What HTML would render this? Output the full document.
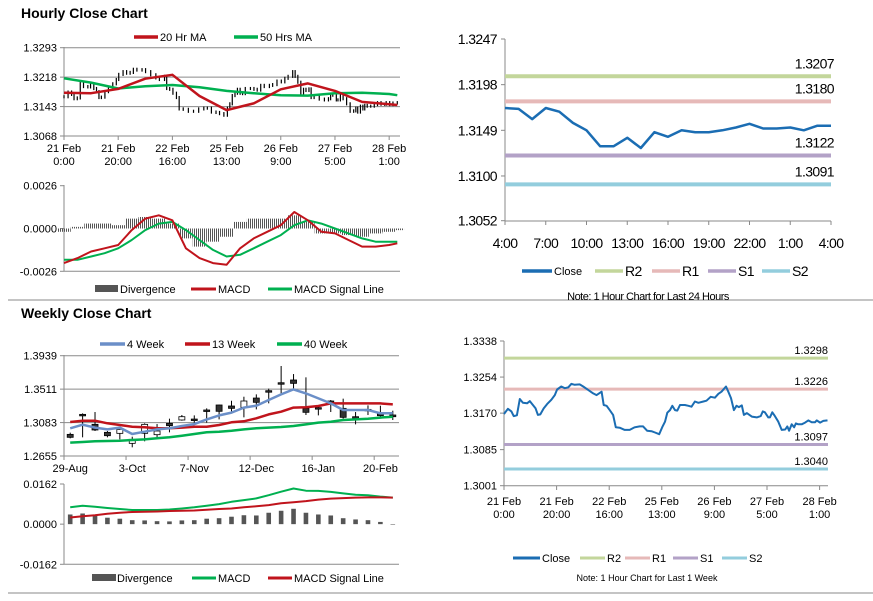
<!DOCTYPE html>
<html><head><meta charset="utf-8"><style>
html,body{margin:0;padding:0;background:#fff;width:873px;height:601px;overflow:hidden}
svg{display:block;font-family:"Liberation Sans",Arial,sans-serif}
</style></head><body>
<svg id="root" width="873" height="601" viewBox="0 0 873 601" xmlns="http://www.w3.org/2000/svg">
<defs><pattern id="hatch" width="2" height="4" patternUnits="userSpaceOnUse"><rect x="0" y="0" width="1" height="4" fill="#555"/></pattern></defs>
<text x="21" y="18" font-size="14" font-weight="bold">Hourly Close Chart</text>
<text x="21" y="318" font-size="14" font-weight="bold">Weekly Close Chart</text>
<line x1="8" y1="300" x2="873" y2="300" stroke="#888" stroke-width="1"/>
<line x1="8" y1="593" x2="873" y2="593" stroke="#888" stroke-width="1"/>
</svg>
<script>
// ===== DATA =====
const hourlyHours=[0,1.5,2.8,3.7,4.9,6,7.2,8.8,9.8,11,12,12.9,13.8,15.1,16.4,18,19.3,20.2,21.8,23.1,24.4,25.6,26.9,28.8,30.1,32,33.9,35.2,37.1,37.9,39,40.2,41.5,42.5,44,45.9,47.8,49.7,51.6,52.9,54.4,56.1,57.4,59,60.3,61.2,62.1,63.1,64,65,65.9,66.9,68.8,70.1,71.3,72.6,73.9,75.8,77,78.6,80.2,81.5,82.7,84.4,85.3,86.3,87.4,88.4,89.3,90.4,91.2,92.3,94.2,96.1,97.6,98.4,99.2,100.5,101.1,102,103,104.3,105.6,106.9,107.7,108.4,109.4,110.3,111,111.9,113.2,114.5,115.7,117,118.3,118.9,120.2,121.4,123];
const hourlyClose=[1.3168,1.3180,1.3174,1.3163,1.3165,1.3203,1.3194,1.3193,1.3198,1.3189,1.3181,1.3166,1.3167,1.3181,1.3191,1.3201,1.3212,1.3225,1.3232,1.3228,1.3230,1.3238,1.3236,1.3237,1.3232,1.3224,1.3216,1.3212,1.3220,1.3189,1.3187,1.3177,1.3166,1.3137,1.3136,1.3131,1.3131,1.3137,1.3139,1.3139,1.3129,1.3128,1.3125,1.3121,1.3139,1.3150,1.3171,1.3177,1.3187,1.3177,1.3176,1.3189,1.3189,1.3187,1.3185,1.3197,1.3194,1.3197,1.3199,1.3208,1.3206,1.3215,1.3220,1.3232,1.3220,1.3205,1.3177,1.3187,1.3184,1.3188,1.3166,1.3170,1.3162,1.3160,1.3163,1.3174,1.3172,1.3160,1.3160,1.3172,1.3163,1.3150,1.3131,1.3132,1.3139,1.3129,1.3144,1.3137,1.3146,1.3144,1.3144,1.3148,1.3153,1.3149,1.3149,1.3153,1.3148,1.3152,1.3153];
const maHours=[0,10,20,30,40,50,60,70,80,90,100,110,120,123];
const ma20=[1.3178,1.3177,1.3188,1.3214,1.3224,1.3170,1.3134,1.3151,1.3187,1.3202,1.3183,1.3155,1.3149,1.3147];
const ma50=[1.3215,1.3204,1.3189,1.3195,1.3198,1.3192,1.3183,1.3177,1.3172,1.3171,1.3177,1.3178,1.3175,1.3172];
const hourlyTickLabels=[["21 Feb","0:00"],["21 Feb","20:00"],["22 Feb","16:00"],["25 Feb","13:00"],["26 Feb","9:00"],["27 Feb","5:00"],["28 Feb","1:00"]];
const hourlyTickHours=[0,20,40,60,80,100,120];
const hourlyYTicks=[1.3068,1.3143,1.3218,1.3293];
const macdHours=[0,5,10,15,20,25,30,35,40,45,50,55,60,65,70,75,80,85,90,95,100,105,110,115,120,123];
const hMacd=[-0.0021,-0.0018,-0.0014,-0.0012,-0.0010,-0.0001,0.0006,0.0008,0.0005,-0.0012,-0.0018,-0.0021,-0.0022,-0.0012,-0.0006,-0.0002,0.0002,0.0010,0.0005,-0.0002,-0.0003,-0.0007,-0.0011,-0.0011,-0.0010,-0.0009];
const hSignal=[-0.0019,-0.0019,-0.0017,-0.0015,-0.0012,-0.0007,-0.0001,0.0003,0.0004,-0.0001,-0.0007,-0.0013,-0.0017,-0.0016,-0.0012,-0.0008,-0.0004,0.0002,0.0005,0.0003,0.0000,-0.0003,-0.0006,-0.0008,-0.0008,-0.0008];
const hDiverg=[-0.0002,0.0001,0.0003,0.0003,0.0002,0.0006,0.0007,0.0006,0.0003,-0.0006,-0.0011,-0.0008,-0.0005,0.0004,0.0006,0.0006,0.0006,0.0008,0.0004,-0.0003,-0.0003,-0.0004,-0.0005,-0.0003,-0.0002,-0.0001];
const hMacdTicks=[-0.0026,0.0000,0.0026];

const dayCloses=[1.3173,1.3172,1.3161,1.3173,1.3169,1.3157,1.3149,1.3132,1.3132,1.3141,1.3130,1.3147,1.3142,1.3149,1.3147,1.3147,1.3149,1.3152,1.3156,1.3151,1.3151,1.3152,1.3149,1.3154,1.3154];
const dayLabels=["4:00","7:00","10:00","13:00","16:00","19:00","22:00","1:00","4:00"];
const dayYTicks=[1.3052,1.3100,1.3149,1.3198,1.3247];
const dayLevels=[1.3207,1.3180,1.3122,1.3091];
const weekLevels=[1.3298,1.3226,1.3097,1.3040];
const levelNames=["R2","R1","S1","S2"];
const weekYTicks=[1.3001,1.3085,1.3170,1.3254,1.3338];

const weeks=["29-Aug","5-Sep","12-Sep","19-Sep","26-Sep","3-Oct","10-Oct","17-Oct","24-Oct","31-Oct","7-Nov","14-Nov","21-Nov","28-Nov","5-Dec","12-Dec","19-Dec","26-Dec","2-Jan","9-Jan","16-Jan","23-Jan","30-Jan","6-Feb","13-Feb","20-Feb","27-Feb"];
const wOpen=[1.2932,1.3175,1.3060,1.2958,1.2945,1.2817,1.2945,1.2928,1.3073,1.3116,1.3116,1.3231,1.3308,1.3295,1.3278,1.3397,1.3474,1.3576,1.3628,1.3265,1.3256,1.3346,1.3265,1.3150,1.3235,1.3171,1.3158];
const wClose=[1.2894,1.3188,1.2988,1.2915,1.2996,1.2868,1.3060,1.2975,1.3043,1.3158,1.3128,1.3244,1.3227,1.3265,1.3359,1.3342,1.3491,1.3593,1.3585,1.3214,1.3274,1.3359,1.3150,1.3158,1.3252,1.3201,1.3180];
const wHigh=[1.2954,1.3201,1.3218,1.2975,1.3018,1.2902,1.3073,1.3064,1.3133,1.3180,1.3175,1.3265,1.3312,1.3363,1.3414,1.3444,1.3517,1.3807,1.3704,1.3662,1.3286,1.3372,1.3389,1.3218,1.3303,1.3299,1.3235];
const wLow=[1.2881,1.2894,1.2975,1.2894,1.2868,1.2766,1.2843,1.2898,1.2958,1.3107,1.3073,1.3082,1.3124,1.3227,1.3150,1.3252,1.3329,1.3457,1.3508,1.3180,1.3175,1.3218,1.3133,1.3060,1.3180,1.3158,1.3116];
const ma4w=[1.3009,1.3056,1.3018,1.2996,1.3018,1.2936,1.2966,1.2996,1.3009,1.3039,1.3064,1.3124,1.3175,1.3210,1.3274,1.3299,1.3372,1.3444,1.3508,1.3457,1.3393,1.3329,1.3244,1.3244,1.3244,1.3201,1.3201];
const ma13w=[1.3090,1.3107,1.3107,1.3073,1.3052,1.3030,1.3022,1.3009,1.3009,1.3018,1.3030,1.3030,1.3052,1.3086,1.3099,1.3137,1.3188,1.3222,1.3274,1.3278,1.3295,1.3329,1.3329,1.3329,1.3329,1.3329,1.3316];
const ma40w=[1.2826,1.2834,1.2843,1.2847,1.2851,1.2860,1.2868,1.2881,1.2894,1.2915,1.2936,1.2958,1.2966,1.2979,1.2996,1.3009,1.3018,1.3026,1.3039,1.3060,1.3082,1.3094,1.3116,1.3124,1.3133,1.3146,1.3158];
const weekYTicksL=[1.2655,1.3083,1.3511,1.3939];
const weekTickIdx=[0,5,10,15,20,25];
const wMacd=[0.0068,0.0074,0.0070,0.0065,0.0061,0.0057,0.0057,0.0057,0.0059,0.0063,0.0068,0.0074,0.0081,0.0090,0.0097,0.0104,0.0117,0.0131,0.0144,0.0135,0.0134,0.0130,0.0124,0.0119,0.0117,0.0111,0.0107];
const wSignal=[0.0027,0.0032,0.0036,0.0042,0.0046,0.0049,0.0050,0.0051,0.0053,0.0054,0.0055,0.0058,0.0061,0.0063,0.0068,0.0072,0.0077,0.0084,0.0088,0.0093,0.0099,0.0103,0.0105,0.0107,0.0108,0.0108,0.0107];
const wDiverg=[0.0039,0.0043,0.0036,0.0026,0.0022,0.0016,0.0015,0.0012,0.0011,0.0015,0.0016,0.0022,0.0024,0.0030,0.0036,0.0035,0.0046,0.0054,0.0062,0.0046,0.0039,0.0035,0.0024,0.0019,0.0016,0.0009,-0.0002];
const wMacdTicks=[-0.0162,0.0000,0.0162];

// ===== HELPERS =====
const NS="http://www.w3.org/2000/svg";
const root=document.getElementById('root');
function mk(tag,attrs,name,parent){
  const el=document.createElementNS(NS,tag);
  for(const k in attrs) el.setAttribute(k,attrs[k]);
  
  
  (parent||root).appendChild(el);
  return el;
}
function txt(x,y,s,size,name,anchor,extra){
  const t=mk('text',Object.assign({x:x,y:y,'font-size':size,'text-anchor':anchor||'start',fill:'#000'},extra||{}),name);
  t.textContent=s;return t;
}
function lin(a,b,c,d){return v=>c+(v-a)*(d-c)/(b-a);}
function poly(xs,ys,color,w,name){
  let p=xs.map((x,i)=>x.toFixed(1)+','+ys[i].toFixed(1)).join(' ');
  return mk('polyline',{points:p,fill:'none',stroke:color,'stroke-width':w,'stroke-linejoin':'round'},name);
}
function legendLine(x1,x2,y,color,w,label,name){
  mk('line',{x1:x1,y1:y,x2:x2,y2:y,stroke:color,'stroke-width':w},name+'-swatch');
  txt(x2+2,y+4,label,11,name+'-label');
}
const RED='#c0141c',GREEN='#00b050',BLUE='#6b8fc8',CLOSE='#1b6db3';
const LVC=['#c3d69b','#e6b9b8','#b3a2c7','#93cddd'];

// ===== HOURLY PRICE =====
(function(){
  const X=lin(0,124,64,400), Y=lin(1.3068,1.3293,136,47.7);
  hourlyYTicks.forEach(v=>{
    mk('line',{x1:64,x2:400,y1:Y(v),y2:Y(v),stroke:'#8a8a8a','stroke-width':1},'hourly-gridline');
    mk('line',{x1:60,x2:64,y1:Y(v),y2:Y(v),stroke:'#8a8a8a'},'hourly-y-tick');
    txt(57,Y(v)+4,v.toFixed(4),11,'hourly-y-label','end');
  });
  mk('line',{x1:64,x2:64,y1:47,y2:136,stroke:'#8a8a8a'},'hourly-y-axis');
  hourlyTickHours.forEach((h,i)=>{
    mk('line',{x1:X(h),x2:X(h),y1:136,y2:140,stroke:'#8a8a8a'},'hourly-x-tick');
    txt(X(h),152,hourlyTickLabels[i][0],11,'hourly-x-label','middle');
    txt(X(h),165,hourlyTickLabels[i][1],11,'hourly-x-label','middle');
  });
  hourlyClose.forEach((c,i)=>{
    const o=i?hourlyClose[i-1]:c;
    const hi=Math.max(o,c)+0.0004, lo=Math.min(o,c)-0.0004;
    mk('line',{x1:X(hourlyHours[i]),x2:X(hourlyHours[i]),y1:Y(hi),y2:Y(lo),stroke:'#000','stroke-width':1.2},'hourly-candle');
  });
  poly(maHours.map(X),ma50.map(Y),GREEN,2.5,'ma50-line');
  poly(maHours.map(X),ma20.map(Y),RED,2.5,'ma20-line');
  legendLine(134,158,37,RED,3.5,'20 Hr MA','legend-ma20');
  legendLine(234,258,37,GREEN,3.5,'50 Hrs MA','legend-ma50');
})();

// ===== HOURLY MACD =====
(function(){
  const X=lin(0,124,64,400), Y=lin(-0.0026,0.0026,271.3,185.7);
  hMacdTicks.forEach(v=>{
    mk('line',{x1:60,x2:64,y1:Y(v),y2:Y(v),stroke:'#8a8a8a'},'macd-y-tick');
    txt(57,Y(v)+4,v.toFixed(4),11,'macd-y-label','end');
  });
  mk('line',{x1:64,x2:64,y1:185,y2:271,stroke:'#8a8a8a'},'macd-y-axis');
  mk('line',{x1:64,x2:400,y1:271.3,y2:271.3,stroke:'#8a8a8a'},'macd-x-axis');
  const step=X(5)-X(0);
  hDiverg.forEach((d,i)=>{
    const y0=Y(0),y1=Y(d);
    mk('rect',{x:X(macdHours[i])-step/2,y:Math.min(y0,y1),width:step,height:Math.abs(y1-y0),fill:'url(#hatch)'},'divergence-bar');
  });
  poly(macdHours.map(X),hSignal.map(Y),GREEN,2,'macd-signal-line');
  poly(macdHours.map(X),hMacd.map(Y),RED,2,'macd-line');
  mk('rect',{x:95,y:285,width:23,height:7,fill:'#555'},'legend-divergence-swatch');
  txt(120,293,'Divergence',11,'legend-divergence-label');
  legendLine(191,216,289,RED,3,'MACD','legend-macd');
  legendLine(268,292,289,GREEN,3,'MACD Signal Line','legend-signal');
})();

// ===== DAILY (24H) CHART =====
(function(){
  const X=lin(0,24,505,831), Y=lin(1.3052,1.3247,220.7,39);
  mk('line',{x1:505,x2:505,y1:39,y2:221,stroke:'#888'},'day-y-axis');
  mk('line',{x1:505,x2:831,y1:221,y2:221,stroke:'#888'},'day-x-axis');
  dayYTicks.forEach(v=>{
    mk('line',{x1:501,x2:505,y1:Y(v),y2:Y(v),stroke:'#888'},'day-y-tick');
    txt(497,Y(v)+5,v.toFixed(4),14,'day-y-label','end',{'letter-spacing':'-0.6'});
  });
  dayLabels.forEach((s,i)=>{
    mk('line',{x1:X(i*3),x2:X(i*3),y1:221,y2:225,stroke:'#888'},'day-x-tick');
    txt(X(i*3),248,s,14,'day-x-label','middle',{'letter-spacing':'-0.6'});
  });
  dayLevels.forEach((v,i)=>{
    mk('line',{x1:505,x2:831,y1:Y(v),y2:Y(v),stroke:LVC[i],'stroke-width':4},'day-level-'+levelNames[i]);
    txt(834,Y(v)-8,v.toFixed(4),14,'day-level-label','end',{'letter-spacing':'-0.6'});
  });
  poly(dayCloses.map((c,i)=>X(i)),dayCloses.map(Y),CLOSE,2.5,'day-close-line');
  legendLine(522,552,271,CLOSE,3.5,'Close','legend-day-close');
  levelNames.forEach((n,i)=>{
    const xs=[595,652,708,762][i];
    mk('line',{x1:xs,x2:xs+28,y1:271,y2:271,stroke:LVC[i],'stroke-width':3.5},'legend-day-'+n+'-swatch');
    txt(xs+30,276,n,14,'legend-day-'+n+'-label','start',{'letter-spacing':'-0.6'});
  });
  txt(648,300,'Note: 1 Hour Chart for Last 24 Hours',11,'day-note','middle',{'letter-spacing':'-0.5'});
})();

// ===== WEEKLY PRICE =====
(function(){
  const bw=335/27, X=i=>64+bw*(i+0.5), Y=lin(1.2655,1.3939,456,355.7);
  weekYTicksL.forEach(v=>{
    mk('line',{x1:64,x2:399,y1:Y(v),y2:Y(v),stroke:'#8a8a8a'},'weekly-gridline');
    mk('line',{x1:60,x2:64,y1:Y(v),y2:Y(v),stroke:'#8a8a8a'},'weekly-y-tick');
    txt(57,Y(v)+4,v.toFixed(4),11,'weekly-y-label','end');
  });
  mk('line',{x1:64,x2:64,y1:355,y2:456,stroke:'#8a8a8a'},'weekly-y-axis');
  weekTickIdx.forEach(i=>{
    mk('line',{x1:64+bw*i,x2:64+bw*i,y1:456,y2:460,stroke:'#8a8a8a'},'weekly-x-tick');
    txt(X(i),472,weeks[i],11,'weekly-x-label','middle');
  });
  weeks.forEach((w,i)=>{
    mk('line',{x1:X(i),x2:X(i),y1:Y(wHigh[i]),y2:Y(wLow[i]),stroke:'#000','stroke-width':1},'weekly-wick');
    const top=Y(Math.max(wOpen[i],wClose[i])), bot=Y(Math.min(wOpen[i],wClose[i]));
    const h=Math.max(bot-top,1.5);
    const bear=wClose[i]<wOpen[i];
    mk('rect',{x:X(i)-3,y:top,width:6,height:h,fill:(bear||h<3)?'#333':'#fff',stroke:'#000','stroke-width':0.8},'weekly-candle');
  });
  poly(weeks.map((w,i)=>X(i)),ma40w.map(Y),GREEN,2.5,'ma40w-line');
  poly(weeks.map((w,i)=>X(i)),ma13w.map(Y),RED,2.5,'ma13w-line');
  poly(weeks.map((w,i)=>X(i)),ma4w.map(Y),BLUE,2.5,'ma4w-line');
  legendLine(100,125,344,BLUE,3.5,'4 Week','legend-4w');
  legendLine(185,210,344,RED,3.5,'13 Week','legend-13w');
  legendLine(277,302,344,GREEN,3.5,'40 Week','legend-40w');
})();

// ===== WEEKLY MACD =====
(function(){
  const bw=335/27, X=i=>64+bw*(i+0.5), Y=lin(-0.0162,0.0162,564.3,484);
  wMacdTicks.forEach(v=>{
    mk('line',{x1:60,x2:64,y1:Y(v),y2:Y(v),stroke:'#8a8a8a'},'wmacd-y-tick');
    txt(57,Y(v)+4,v.toFixed(4),11,'wmacd-y-label','end');
  });
  mk('line',{x1:64,x2:64,y1:484,y2:564,stroke:'#8a8a8a'},'wmacd-y-axis');
  mk('line',{x1:64,x2:399,y1:564.3,y2:564.3,stroke:'#8a8a8a'},'wmacd-x-axis');
  wDiverg.forEach((d,i)=>{
    const y0=Y(0),y1=Y(d);
    mk('rect',{x:X(i)-2.3,y:Math.min(y0,y1),width:4.6,height:Math.max(Math.abs(y1-y0),0.5),fill:'#555'},'wdivergence-bar');
  });
  poly(weeks.map((w,i)=>X(i)),wMacd.map(Y),GREEN,2,'wmacd-line');
  poly(weeks.map((w,i)=>X(i)),wSignal.map(Y),RED,2,'wsignal-line');
  mk('rect',{x:92,y:574,width:24,height:7,fill:'#555'},'legend-wdivergence-swatch');
  txt(117,582,'Divergence',11,'legend-wdivergence-label');
  legendLine(192,216,578,GREEN,3,'MACD','legend-wmacd');
  legendLine(268,292,578,RED,3,'MACD Signal Line','legend-wsignal');
})();

// ===== WEEK (HOURLY 1W) LINE CHART =====
(function(){
  const X=lin(0,123,504,827.5), Y=lin(1.3001,1.3338,485.7,341);
  mk('line',{x1:504,x2:504,y1:341,y2:486,stroke:'#888'},'week-y-axis');
  mk('line',{x1:504,x2:828,y1:485.7,y2:485.7,stroke:'#888'},'week-x-axis');
  weekYTicks.forEach(v=>{
    mk('line',{x1:500,x2:504,y1:Y(v),y2:Y(v),stroke:'#888'},'week-y-tick');
    txt(497,Y(v)+4,v.toFixed(4),11,'week-y-label','end');
  });
  hourlyTickHours.forEach((h,i)=>{
    mk('line',{x1:X(h),x2:X(h),y1:486,y2:490,stroke:'#888'},'week-x-tick');
    txt(X(h),505,hourlyTickLabels[i][0],11,'week-x-label','middle');
    txt(X(h),518,hourlyTickLabels[i][1],11,'week-x-label','middle');
  });
  weekLevels.forEach((v,i)=>{
    mk('line',{x1:504,x2:828,y1:Y(v),y2:Y(v),stroke:LVC[i],'stroke-width':3},'week-level-'+levelNames[i]);
    txt(828,Y(v)-4,v.toFixed(4),11,'week-level-label','end');
  });
  poly(hourlyHours.map(X),hourlyClose.map(Y),CLOSE,2,'week-close-line');
  legendLine(513,540,558,CLOSE,3,'Close','legend-week-close');
  levelNames.forEach((n,i)=>{
    const xs=[580,625,673,722][i];
    mk('line',{x1:xs,x2:xs+25,y1:558,y2:558,stroke:LVC[i],'stroke-width':3},'legend-week-'+n+'-swatch');
    txt(xs+27,562,n,11,'legend-week-'+n+'-label');
  });
  txt(647,581,'Note: 1 Hour Chart for  Last 1 Week',9,'week-note','middle');
})();
</script>
</body></html>
